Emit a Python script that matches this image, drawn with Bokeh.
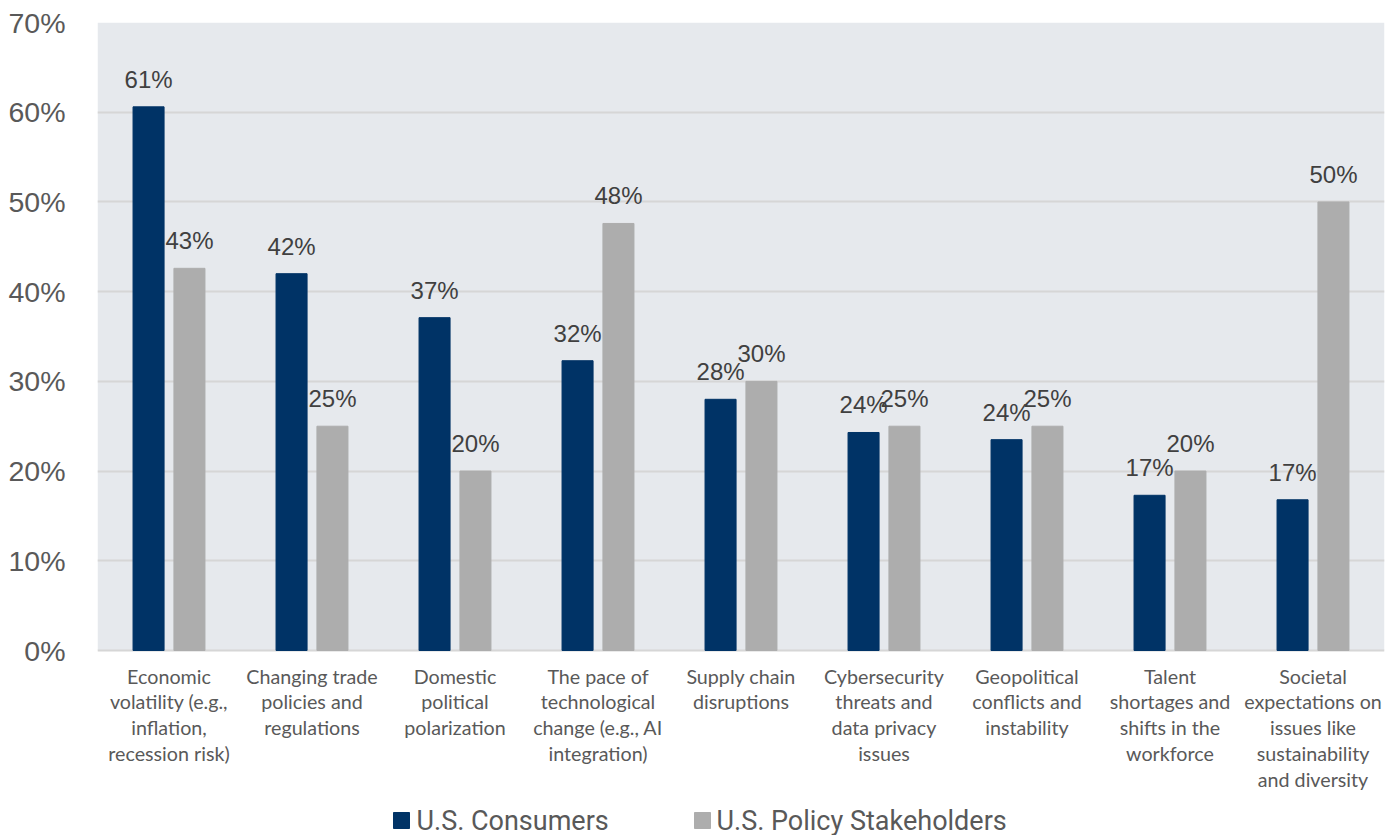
from bokeh.plotting import figure
from bokeh.models import (ColumnDataSource, FactorRange, Range1d, FixedTicker,
                          PrintfTickFormatter, BoxAnnotation)
from bokeh.transform import dodge
from bokeh.embed import file_html
from bokeh.resources import INLINE
from bokeh.core.properties import value

categories = [
    "Economic\nvolatility (e.g.,\ninflation,\nrecession risk)",
    "Changing trade\npolicies and\nregulations",
    "Domestic\npolitical\npolarization",
    "The pace of\ntechnological\nchange (e.g., AI\nintegration)",
    "Supply chain\ndisruptions",
    "Cybersecurity\nthreats and\ndata privacy\nissues",
    "Geopolitical\nconflicts and\ninstability",
    "Talent\nshortages and\nshifts in the\nworkforce",
    "Societal\nexpectations on\nissues like\nsustainability\nand diversity",
]
consumers = [60.6, 42.0, 37.1, 32.3, 28.0, 24.3, 23.5, 17.3, 16.8]
stakeholders = [42.6, 25.0, 20.0, 47.6, 30.0, 25.0, 25.0, 20.0, 50.0]
series_names = ["U.S. Consumers", "U.S. Policy Stakeholders"]
y_ticks = [0, 10, 20, 30, 40, 50, 60, 70]

NAVY = "#003366"
GRAY = "#ADADAD"
BG = "#E6E9ED"
GRID = "#D6D6D6"
TXT = "#595959"

# layout (pixels)
W, H = 1390, 835
LEFT, TOP, RIGHT = 97, 22, 6
ZERO_PX = 650                       # page y of the 0% line
px_per_unit = (ZERO_PX - TOP) / y_ticks[-1]
y_min = -(H - ZERO_PX) / px_per_unit
cat_px = (W - LEFT - RIGHT) / len(categories)

def px_to_x(px):
    return (px - LEFT) / cat_px

def py_to_y(py):
    return (ZERO_PX - py) / px_per_unit

src = ColumnDataSource(dict(
    cat=categories,
    c=consumers,
    s=stakeholders,
    cl=[f"{v:.0f}%" for v in consumers],
    sl=[f"{v:.0f}%" for v in stakeholders],
    zero=[0] * len(categories),
))

p = figure(width=W, height=H, x_range=FactorRange(*categories, range_padding=0),
           y_range=Range1d(y_min, y_ticks[-1]), output_backend="svg", toolbar_location=None,
           min_border_left=LEFT, min_border_right=RIGHT, min_border_top=TOP, min_border_bottom=0)
p.background_fill_color = "white"
p.border_fill_color = "white"
p.outline_line_color = None

p.add_layout(BoxAnnotation(bottom=0, top=y_ticks[-1], fill_color=BG, fill_alpha=1,
                           line_color=None, level="image"))

off = 0.143
bw = 0.217
r1 = p.vbar(x=dodge("cat", -off, range=p.x_range), top="c", width=bw, source=src,
            fill_color=NAVY, line_color=NAVY)
r2 = p.vbar(x=dodge("cat", off, range=p.x_range), top="s", width=bw, source=src,
            fill_color=GRAY, line_color=GRAY)

p.text(x=dodge("cat", -off, range=p.x_range), y="c", text="cl", source=src,
       text_align="center", text_baseline="bottom", y_offset=-14,
       text_font=value("Liberation Sans"), text_font_size="24px", text_color="#404040")
p.text(x=dodge("cat", off, range=p.x_range), y="s", text="sl", source=src,
       text_align="center", text_baseline="bottom", y_offset=-14,
       text_font=value("Liberation Sans"), text_font_size="24px", text_color="#404040")

# category labels (multi-line), below the 0 line
p.text(x="cat", y="zero", text="cat", source=src, text_align="center",
       text_baseline="top", y_offset=14, text_line_height=1.12,
       text_font=value("Lato"), text_font_size="19.7px", text_color=TXT)

# grid
p.xgrid.grid_line_color = None
p.ygrid.grid_line_color = GRID
p.ygrid.grid_line_width = 2
p.ygrid.ticker = FixedTicker(ticks=y_ticks)

# y axis
p.yaxis.ticker = FixedTicker(ticks=y_ticks)
p.yaxis.formatter = PrintfTickFormatter(format="%d%%")
p.yaxis.axis_line_color = None
p.yaxis.major_tick_line_color = None
p.yaxis.minor_tick_line_color = None
p.yaxis.major_tick_out = 0
p.yaxis.major_label_standoff = 32
p.yaxis.major_label_text_font = "Liberation Sans"
p.yaxis.major_label_text_font_size = "28.5px"
p.yaxis.major_label_text_color = TXT

p.xaxis.visible = False

# legend drawn manually
leg_y = py_to_y(820)
leg_src = ColumnDataSource(dict(
    mx=[px_to_x(401), px_to_x(702)],
    tx=[px_to_x(416), px_to_x(716)],
    y=[leg_y, leg_y],
    color=[NAVY, GRAY],
    label=series_names,
))
p.scatter(x="mx", y="y", marker="square", size=16, fill_color="color",
          line_color="color", source=leg_src)
p.text(x="tx", y="y", text="label", source=leg_src, text_align="left",
       text_baseline="middle", text_font=value("Roboto"), text_font_size="27px",
       text_color=TXT)

open("out.html", "w").write(file_html(p, INLINE))
